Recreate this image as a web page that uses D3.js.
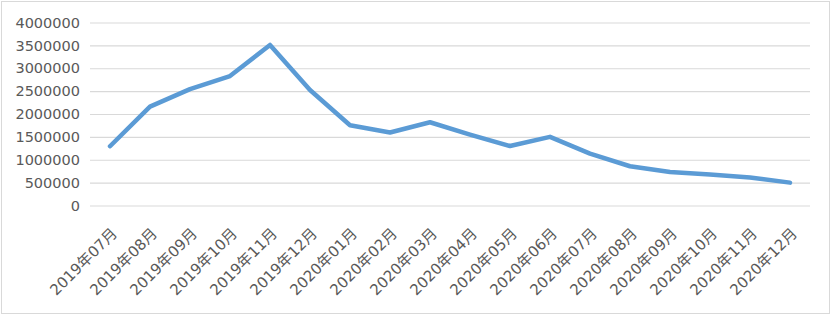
<!DOCTYPE html>
<html>
<head>
<meta charset="utf-8">
<script src="https://cdn.jsdelivr.net/npm/d3@7"></script>
<style>
  html, body { margin: 0; padding: 0; background: #fff; }
  svg { display: block; }
</style>
</head>
<body>
<svg id="chart" width="833" height="315"></svg>
<script>
const months = [
  "2019年07月", "2019年08月", "2019年09月", "2019年10月", "2019年11月", "2019年12月",
  "2020年01月", "2020年02月", "2020年03月", "2020年04月", "2020年05月", "2020年06月",
  "2020年07月", "2020年08月", "2020年09月", "2020年10月", "2020年11月", "2020年12月",
];
const values = [
  1295000, 2160000, 2545000, 2830000, 3510000, 2525000,
  1755000, 1595000, 1820000, 1550000, 1300000, 1500000,
  1135000, 858000, 732000, 675000, 610000, 500000,
];
const yTicks = [0, 500000, 1000000, 1500000, 2000000, 2500000, 3000000, 3500000, 4000000];

const width = 833, height = 315;
const margin = { top: 22.5, right: 23, bottom: 109.5, left: 90 };
const innerW = width - margin.left - margin.right;
const innerH = height - margin.top - margin.bottom;

const svg = d3.select("#chart");

// chart area frame
svg.append("rect")
  .attr("x", 1.5).attr("y", 1.5)
  .attr("width", 828).attr("height", 312)
  .attr("fill", "#fff")
  .attr("stroke", "#d9d9d9")
  .attr("stroke-width", 1);

const root = svg.append("g").attr("transform", `translate(${margin.left},${margin.top})`);

const x = d3.scaleBand().domain(months).range([0, innerW]).padding(0);
const y = d3.scaleLinear().domain([0, 4000000]).range([innerH, 0]);

// gridlines + y labels
const gy = root.append("g").call(
  d3.axisLeft(y).tickValues(yTicks).tickSize(-innerW).tickPadding(10).tickFormat(d3.format("d"))
);
gy.select(".domain").remove();
gy.selectAll("line").attr("stroke", "#d9d9d9").attr("stroke-width", 1.2);
gy.selectAll("text")
  .attr("fill", "#595959")
  .style("font-family", "'DejaVu Sans', sans-serif")
  .style("font-size", "14.5px");

// x labels
const gx = root.append("g").attr("transform", `translate(0,${innerH})`).call(
  d3.axisBottom(x).tickSize(0).tickPadding(0)
);
gx.select(".domain").remove();
gx.selectAll("text")
  .attr("fill", "#595959")
  .style("font-family", "'DejaVu Sans', 'Noto Sans CJK SC', sans-serif")
  .style("font-size", "15px")
  .attr("text-anchor", "end")
  .attr("dy", 0)
  .attr("y", 0)
  .attr("transform", "translate(8,29) rotate(-45)");

// line
const line = d3.line()
  .x((d, i) => x(months[i]) + x.bandwidth() / 2)
  .y(d => y(d));

root.append("path")
  .datum(values)
  .attr("fill", "none")
  .attr("stroke", "#5b9bd5")
  .attr("stroke-width", 4.5)
  .attr("stroke-linejoin", "round")
  .attr("stroke-linecap", "round")
  .attr("d", line);
</script>
</body>
</html>
